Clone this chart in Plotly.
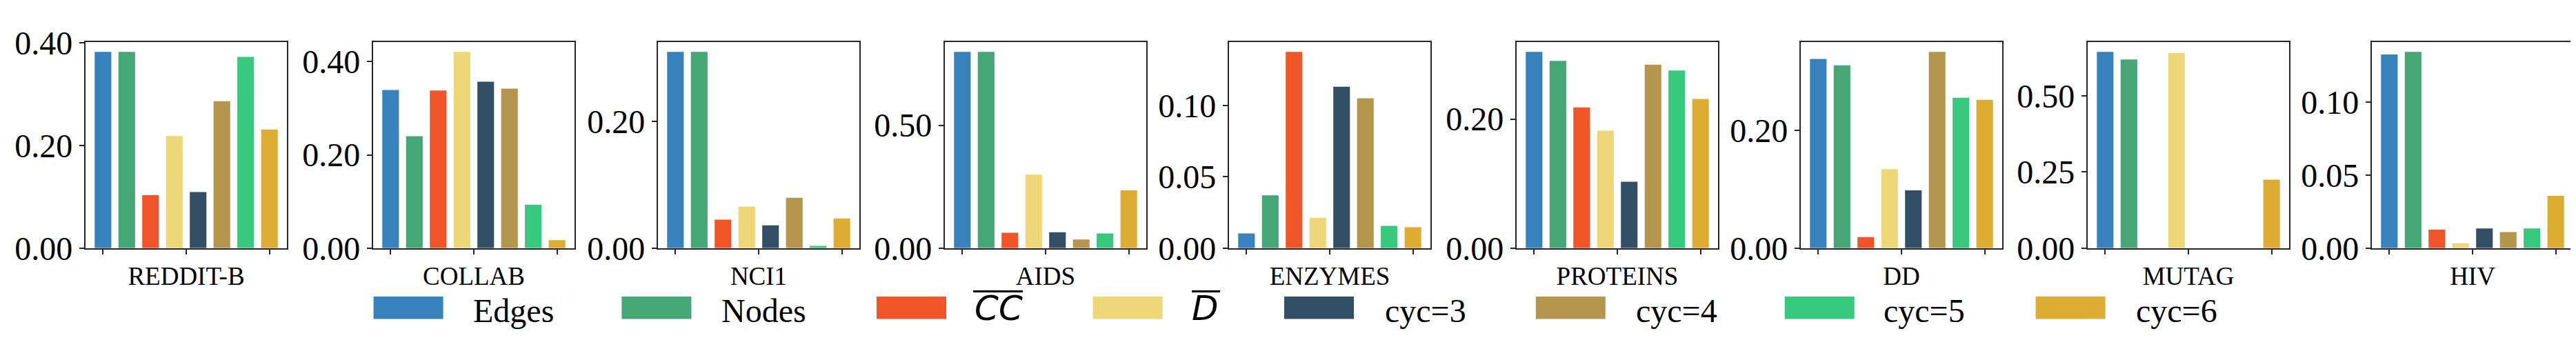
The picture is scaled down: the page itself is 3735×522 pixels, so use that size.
import plotly.graph_objects as go

# ---------------- data ----------------
datasets = ["REDDIT-B", "COLLAB", "NCI1", "AIDS", "ENZYMES", "PROTEINS", "DD", "MUTAG", "HIV"]
series_names = ["Edges", "Nodes", "CC", "D", "cyc=3", "cyc=4", "cyc=5", "cyc=6"]

edges = [0.382, 0.339, 0.310, 0.799, 0.0103, 0.304, 0.321, 0.645, 0.1328]
nodes = [0.382, 0.240, 0.310, 0.799, 0.0370, 0.290, 0.310, 0.620, 0.1346]
cc_bar = [0.103, 0.338, 0.045, 0.063, 0.1375, 0.218, 0.0187, 0.0, 0.0127]
d_bar = [0.218, 0.421, 0.0657, 0.299, 0.0213, 0.182, 0.134, 0.641, 0.0033]
cyc3 = [0.109, 0.357, 0.0361, 0.065, 0.113, 0.103, 0.098, 0.0, 0.0135]
cyc4 = [0.286, 0.342, 0.0795, 0.035, 0.105, 0.284, 0.333, 0.0, 0.011]
cyc5 = [0.372, 0.093, 0.0036, 0.060, 0.0156, 0.275, 0.255, 0.0, 0.0135]
cyc6 = [0.231, 0.017, 0.047, 0.235, 0.0147, 0.231, 0.2515, 0.225, 0.0358]
series_values = [edges, nodes, cc_bar, d_bar, cyc3, cyc4, cyc5, cyc6]

y_dticks = [0.2, 0.2, 0.2, 0.5, 0.05, 0.2, 0.2, 0.25, 0.05]

# ---------------- style ----------------
colors = ["#3781bd", "#45a776", "#f05429", "#edd778", "#324f66", "#b4964f", "#38c97f", "#ddad33"]
W, H = 3735, 522
panel_left = [116, 533, 946, 1362, 1774, 2191, 2603, 3019, 3431]
panel_w = 292
plot_top, plot_bottom = 31, 363
frame_col = "#262626"
serif = "Liberation Serif"

fig = go.Figure()
layout = dict(
    width=W, height=H,
    margin=dict(l=0, r=0, t=0, b=0),
    paper_bgcolor="white", plot_bgcolor="white",
    showlegend=False,
    font=dict(family=serif, color="black"),
)

for i, ds in enumerate(datasets):
    sfx = "" if i == 0 else str(i + 1)
    vals = [s[i] for s in series_values]
    fig.add_trace(go.Bar(
        x=list(range(len(series_names))), y=vals, width=0.7,
        marker=dict(color=colors, line=dict(width=0)),
        xaxis="x" + sfx, yaxis="y" + sfx, showlegend=False,
        hovertext=series_names,
    ))
    x0 = panel_left[i] / W
    x1 = (panel_left[i] + panel_w) / W
    layout["xaxis" + sfx] = dict(
        domain=[x0, x1], anchor="y" + sfx,
        range=[-0.735, 7.735],
        tickmode="array", tickvals=[0, 3.5, 7], ticktext=["", ds, ""],
        ticks="outside", ticklen=7, tickwidth=1.6, tickcolor=frame_col,
        showline=True, mirror=True, linecolor=frame_col, linewidth=2.2,
        showgrid=False, zeroline=False,
        tickfont=dict(family=serif, size=37, color="black"),
        ticklabelstandoff=0,
    )
    ymax = max(vals) * 1.05
    layout["yaxis" + sfx] = dict(
        domain=[1 - plot_bottom / H, 1 - plot_top / H], anchor="x" + sfx,
        range=[0, ymax],
        tick0=0, dtick=y_dticks[i], tickformat=".2f",
        ticks="outside", ticklen=7, tickwidth=1.6, tickcolor=frame_col,
        showline=True, mirror=True, linecolor=frame_col, linewidth=2.2,
        showgrid=False, zeroline=False,
        tickfont=dict(family=serif, size=48, color="black"),
    )

# ---------------- custom legend (large patches, as in the reference) ----------------
patch_x = [533.6, 893.4, 1263, 1576.6, 1854, 2218.8, 2579.7, 2943.6]
text_x = [675.6, 1035.5, 1403, 1718, 1997.5, 2362, 2720.7, 3086.7]
overline_span = {"CC": (1403, 1475), "D": (1720, 1761)}
patch_w = 101
py0, py1 = 441, 477
shapes = []
annotations = []
for k, name in enumerate(series_names):
    shapes.append(dict(type="rect", xref="paper", yref="paper",
                       x0=patch_x[k] / W, x1=(patch_x[k] + patch_w) / W,
                       y0=1 - py1 / H, y1=1 - py0 / H,
                       fillcolor=colors[k], line=dict(width=0)))
    if name in overline_span:
        txt = "<i>" + name + "</i>"
        fnt = dict(family="DejaVu Sans", size=50, color="black")
        ox0, ox1 = overline_span[name]
        shapes.append(dict(type="line", xref="paper", yref="paper",
                           x0=ox0 / W, x1=ox1 / W,
                           y0=1 - 432.5 / H, y1=1 - 432.5 / H,
                           line=dict(color="black", width=3)))
        yc = 1 - 460 / H
    else:
        txt = name
        fnt = dict(family=serif, size=48, color="black")
        yc = 1 - 464 / H
    annotations.append(dict(text=txt, xref="paper", yref="paper",
                            x=text_x[k] / W, y=yc, xanchor="left", yanchor="middle",
                            showarrow=False, font=fnt))

layout["shapes"] = shapes
layout["annotations"] = annotations
fig.update_layout(**layout)
fig.write_html("out.html")
